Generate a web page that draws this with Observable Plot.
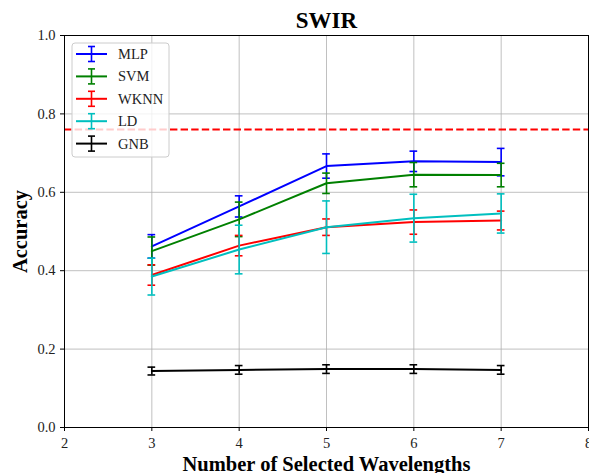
<!DOCTYPE html>
<html>
<head>
<meta charset="utf-8">
<script src="https://cdn.jsdelivr.net/npm/d3@7"></script>
<script src="https://cdn.jsdelivr.net/npm/@observablehq/plot@0.6"></script>
<style>
  html, body { margin: 0; padding: 0; background: #fff; }
  #chart { position: relative; width: 589px; height: 473px; }
  #chart svg, #chart svg text { font-family: "Liberation Serif", "Times New Roman", serif; }
</style>
</head>
<body>
<div id="chart"></div>
<script>
const title = "SWIR";
const xLabel = "Number of Selected Wavelengths";
const yLabel = "Accuracy";
const xTicks = [2, 3, 4, 5, 6, 7, 8];
const yTicks = [0, 0.2, 0.4, 0.6, 0.8, 1.0];
const wavelengths = [3, 4, 5, 6, 7];
const seriesNames = ["MLP", "SVM", "WKNN", "LD", "GNB"];
const seriesColors = ["#0000ff", "#008000", "#ff0000", "#00bfbf", "#000000"];
const mlpMean = [0.462, 0.564, 0.667, 0.679, 0.677];
const mlpErr = [0.030, 0.027, 0.031, 0.026, 0.035];
const svmMean = [0.450, 0.531, 0.623, 0.645, 0.644];
const svmErr = [0.036, 0.044, 0.026, 0.031, 0.030];
const wknnMean = [0.389, 0.464, 0.511, 0.524, 0.528];
const wknnErr = [0.026, 0.026, 0.021, 0.031, 0.024];
const ldMean = [0.385, 0.454, 0.511, 0.534, 0.546];
const ldErr = [0.047, 0.062, 0.067, 0.061, 0.050];
const gnbMean = [0.144, 0.147, 0.149, 0.149, 0.147];
const gnbErr = [0.010, 0.011, 0.011, 0.011, 0.011];
const baseline = [0.76];

const means = [mlpMean, svmMean, wknnMean, ldMean, gnbMean];
const errs = [mlpErr, svmErr, wknnErr, ldErr, gnbErr];

const rows = [];
seriesNames.forEach((s, i) => {
  wavelengths.forEach((w, j) => {
    rows.push({series: s, x: w, y: means[i][j], lo: means[i][j] - errs[i][j], hi: means[i][j] + errs[i][j], order: i});
  });
});

const capHalf = 0.044; // cap half-width in x units
const font = "Liberation Serif, Times New Roman, serif";

const marks = [
  Plot.gridX(xTicks, {stroke: "#b0b0b0", strokeOpacity: 1, strokeWidth: 0.8}),
  Plot.gridY(yTicks, {stroke: "#b0b0b0", strokeOpacity: 1, strokeWidth: 0.8}),
  Plot.ruleY(baseline, {stroke: "#ff0000", strokeWidth: 2, strokeDasharray: "7.4,3.2"})
];
seriesNames.forEach((s, i) => {
  const d = rows.filter(r => r.series === s);
  const c = seriesColors[i];
  marks.push(
    Plot.ruleX(d, {x: "x", y1: "lo", y2: "hi", stroke: c, strokeWidth: 1.6}),
    Plot.ruleY(d, {y: "lo", x1: r => r.x - capHalf, x2: r => r.x + capHalf, stroke: c, strokeWidth: 1.6}),
    Plot.ruleY(d, {y: "hi", x1: r => r.x - capHalf, x2: r => r.x + capHalf, stroke: c, strokeWidth: 1.6}),
    Plot.line(d, {x: "x", y: "y", stroke: c, strokeWidth: 2})
  );
});
marks.push(
  Plot.axisX(xTicks, {tickSize: 4, tickPadding: 6, tickFormat: d => String(d), label: null, fontSize: 14.5, fontFamily: font, stroke: "black", fill: "#222"}),
  Plot.axisY(yTicks, {tickSize: 4, tickPadding: 5, tickFormat: d3.format(".1f"), label: null, fontSize: 14.5, fontFamily: font, stroke: "black", fill: "#222"}),
  Plot.frame({stroke: "black", strokeWidth: 1}),
  Plot.text([title], {frameAnchor: "top", textAnchor: "middle", lineAnchor: "bottom", dy: -8, fontSize: 23, fontWeight: "bold", fontFamily: font, fill: "black"}),
  Plot.text([xLabel], {frameAnchor: "bottom", textAnchor: "middle", lineAnchor: "middle", dy: 37, fontSize: 20.5, fontWeight: "bold", fontFamily: font, fill: "black"}),
  Plot.text([yLabel], {frameAnchor: "left", textAnchor: "middle", lineAnchor: "middle", rotate: -90, dx: -44, fontSize: 20.5, fontWeight: "bold", fontFamily: font, fill: "black"})
);

const chart = Plot.plot({
  width: 589,
  height: 473,
  marginLeft: 64,
  marginRight: 1,
  marginTop: 35,
  marginBottom: 46,
  style: {fontFamily: font, fontSize: "14px", color: "black", background: "white"},
  x: {domain: [2, 8]},
  y: {domain: [0, 1]},
  marks
});

// Legend drawn inside the plot SVG
const svg = d3.select(chart);
const lg = svg.append("g").attr("font-family", font).attr("font-size", 14.5).attr("text-anchor", "start");
const lx = 72, ly = 43, rowH = 22.4;
lg.append("rect").attr("x", lx).attr("y", ly).attr("width", 97).attr("height", 114)
  .attr("rx", 3).attr("fill", "white").attr("fill-opacity", 0.8)
  .attr("stroke", "#cccccc").attr("stroke-width", 1);
seriesNames.forEach((s, i) => {
  const cy = ly + 11 + i * rowH;
  const c = seriesColors[i];
  lg.append("line").attr("x1", lx + 4).attr("x2", lx + 35).attr("y1", cy).attr("y2", cy).attr("stroke", c).attr("stroke-width", 2);
  lg.append("line").attr("x1", lx + 19.5).attr("x2", lx + 19.5).attr("y1", cy - 7.5).attr("y2", cy + 7.5).attr("stroke", c).attr("stroke-width", 1.6);
  lg.append("line").attr("x1", lx + 16).attr("x2", lx + 23).attr("y1", cy - 7.5).attr("y2", cy - 7.5).attr("stroke", c).attr("stroke-width", 1.6);
  lg.append("line").attr("x1", lx + 16).attr("x2", lx + 23).attr("y1", cy + 7.5).attr("y2", cy + 7.5).attr("stroke", c).attr("stroke-width", 1.6);
  lg.append("text").attr("x", lx + 46).attr("y", cy + 5).attr("fill", "#222").attr("text-anchor", "start").text(s);
});

document.getElementById("chart").appendChild(chart);
</script>
</body>
</html>
